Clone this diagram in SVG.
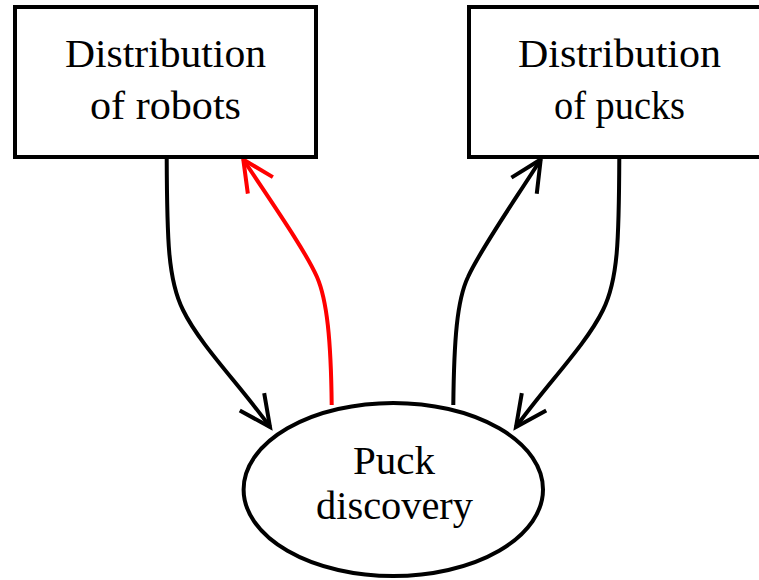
<svg xmlns="http://www.w3.org/2000/svg" width="759" height="580" viewBox="0 0 759 580">
  <style>
    .box { fill: #ffffff; stroke: #000000; stroke-width: 4; }
    .label { font-family: "Liberation Serif", "Times New Roman", serif; font-size: 40px; fill: #000000; text-anchor: middle; }
    .edge { fill: none; stroke: #000000; stroke-width: 4; }
    .edge.red { stroke: #ff0000; }
  </style>
  <defs>
    <marker id="arrow-black" markerUnits="userSpaceOnUse" orient="auto" refX="0" refY="0" markerWidth="50" markerHeight="50" viewBox="-40 -25 50 50" overflow="visible">
      <path d="M-31,-15 L0,0 L-31,15" fill="none" stroke="#000000" stroke-width="4"/>
    </marker>
    <marker id="arrow-red" markerUnits="userSpaceOnUse" orient="auto" refX="0" refY="0" markerWidth="50" markerHeight="50" viewBox="-40 -25 50 50" overflow="visible">
      <path d="M-31,-15 L0,0 L-31,15" fill="none" stroke="#ff0000" stroke-width="4"/>
    </marker>
  </defs>

  <!-- connectors -->
  <g id="connectors">
    <path class="edge" d="M166.7,157 C167,240 168,280 183,310 C200,345 240,385 270,427" marker-end="url(#arrow-black)"/>
    <path class="edge red" d="M331.7,405 C331,340 327,300 317,277 C305,250 270,200 243.3,159.5" marker-end="url(#arrow-red)"/>
    <path class="edge" d="M453.3,405 C454,340 457,300 468,277 C480,250 515,200 540.7,159.5" marker-end="url(#arrow-black)"/>
    <path class="edge" d="M619.3,157 C619,240 618,280 603,310 C586,345 546,385 516,427" marker-end="url(#arrow-black)"/>
  </g>

  <!-- nodes -->
  <g id="robots">
    <rect class="box" x="15" y="7" width="301" height="150"/>
    <text class="label" x="165.5" y="67" textLength="201" lengthAdjust="spacingAndGlyphs">Distribution</text>
    <text class="label" x="165.5" y="119" textLength="151" lengthAdjust="spacingAndGlyphs">of robots</text>
  </g>

  <g id="pucks">
    <rect class="box" x="469" y="7" width="301" height="150"/>
    <text class="label" x="619.5" y="67" textLength="203" lengthAdjust="spacingAndGlyphs">Distribution</text>
    <text class="label" x="619.5" y="119" textLength="131" lengthAdjust="spacingAndGlyphs">of pucks</text>
  </g>

  <g id="discovery">
    <ellipse class="box" cx="393.3" cy="489.5" rx="149.7" ry="86.5"/>
    <text class="label" x="394" y="474" textLength="82" lengthAdjust="spacingAndGlyphs">Puck</text>
    <text class="label" x="394.5" y="519" textLength="157" lengthAdjust="spacingAndGlyphs">discovery</text>
  </g>
</svg>
